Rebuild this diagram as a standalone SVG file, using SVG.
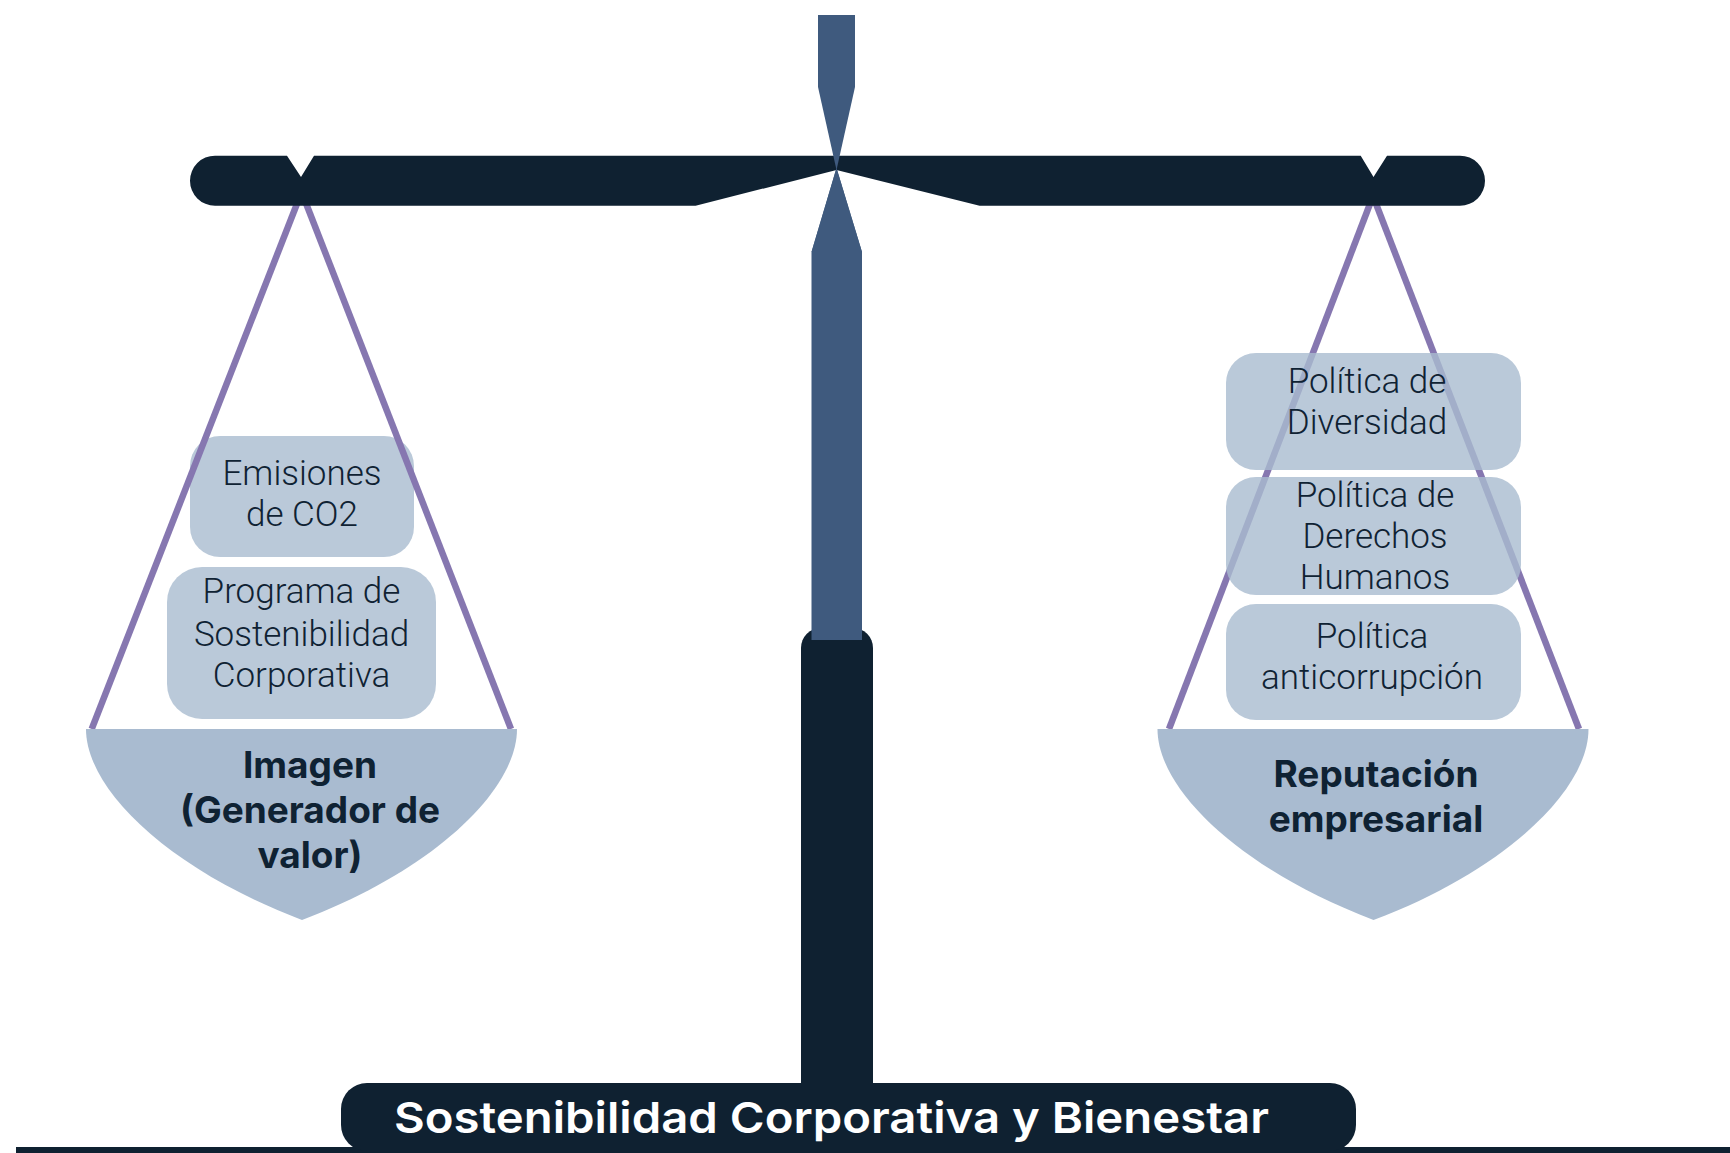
<svg xmlns="http://www.w3.org/2000/svg" width="1730" height="1153" viewBox="0 0 1730 1153">
<style>
.box{fill:#a9bbd0;fill-opacity:0.8}
.pan{fill:#a9bbd0}
.str{stroke:#8677b0;stroke-width:6.5;fill:none}
.dark{fill:#0f2131}
.post{fill:#3f5a7e}
.bt{font-family:Roboto,Inter,"Liberation Sans",sans-serif;font-weight:300;font-size:35px;fill:#0f2233;text-anchor:middle}
.pt{font-family:Inter,"Liberation Sans",sans-serif;font-weight:700;font-size:37px;fill:#0f2233;text-anchor:middle}
.tt{font-family:Inter,"Liberation Sans",sans-serif;font-weight:600;font-size:43px;fill:#ffffff}
</style>
<rect width="1730" height="1153" fill="#ffffff"/>
<g id="structure">
<rect class="dark" x="801" y="628" width="72" height="480" rx="20"/>
<polygon class="post" points="836.5,168 862,252 862,640 811.5,640 811.5,252"/>
</g>
<g id="left-items">
<g id="emisiones">
<rect class="box" x="190" y="436" width="224" height="121" rx="30"/>
<text class="bt" x="302" y="485">Emisiones</text>
<text class="bt" x="302" y="526">de CO2</text>
</g>
<g id="programa">
<rect class="box" x="167" y="567" width="269" height="152" rx="35"/>
<text class="bt" x="301.5" y="603">Programa de</text>
<text class="bt" x="301.5" y="646">Sostenibilidad</text>
<text class="bt" x="301.5" y="687">Corporativa</text>
</g>
</g>
<g id="connectors">
<line class="str" x1="301.6" y1="192" x2="91.7" y2="729"/>
<line class="str" x1="301.6" y1="192" x2="511" y2="729"/>
<line class="str" x1="1373" y1="196" x2="1169" y2="729"/>
<line class="str" x1="1373" y1="196" x2="1579" y2="729"/>
</g>
<g id="left-pan">
<path class="pan" d="M86,729 C86,790 170,870 302,920 C434,870 517,790 517,729 Z"/>
<text class="pt" x="310" y="778">Imagen</text>
<text class="pt" x="310" y="823">(Generador de</text>
<text class="pt" x="310" y="868">valor)</text>
</g>
<g id="right-items">
<g id="diversidad">
<rect class="box" x="1226" y="353" width="295" height="117" rx="30"/>
<text class="bt" x="1367" y="393">Política de</text>
<text class="bt" x="1367" y="434">Diversidad</text>
</g>
<g id="derechos">
<rect class="box" x="1226" y="477" width="295" height="118" rx="30"/>
<text class="bt" x="1375" y="507">Política de</text>
<text class="bt" x="1375" y="548">Derechos</text>
<text class="bt" x="1375" y="589">Humanos</text>
</g>
<g id="anticorrupcion">
<rect class="box" x="1226" y="604" width="295" height="116" rx="30"/>
<text class="bt" x="1372" y="648">Política</text>
<text class="bt" x="1372" y="689">anticorrupción</text>
</g>
</g>
<g id="right-pan">
<path class="pan" d="M1157.5,729 C1157.5,790 1241.5,870 1373.5,920 C1505.5,870 1588.5,790 1588.5,729 Z"/>
<text class="pt" x="1376" y="787">Reputación</text>
<text class="pt" x="1376" y="832">empresarial</text>
</g>
<g id="beam">
<path class="dark" d="M215,155.7 L287,155.7 L301,177 L314,155.7 L1360.7,155.7 L1373.5,177 L1387,155.7 L1460,155.7 A25,25 0 0 1 1460,205.7 L979.6,205.7 L836.5,170 L695.6,205.7 L215,205.7 A25,25 0 0 1 215,155.7 Z"/>
<polygon class="post" points="818,15 855,15 855,87 836.5,170 818,87"/>
<polygon class="post" points="836.5,168 862,252 811.5,252"/>
</g>
<g id="base">
<rect class="dark" x="16" y="1147" width="1714" height="6"/>
<rect class="dark" x="341" y="1083" width="1015" height="68" rx="26"/>
<text class="tt" x="394" y="1133" textLength="875" lengthAdjust="spacingAndGlyphs">Sostenibilidad Corporativa y Bienestar</text>
</g>
</svg>
